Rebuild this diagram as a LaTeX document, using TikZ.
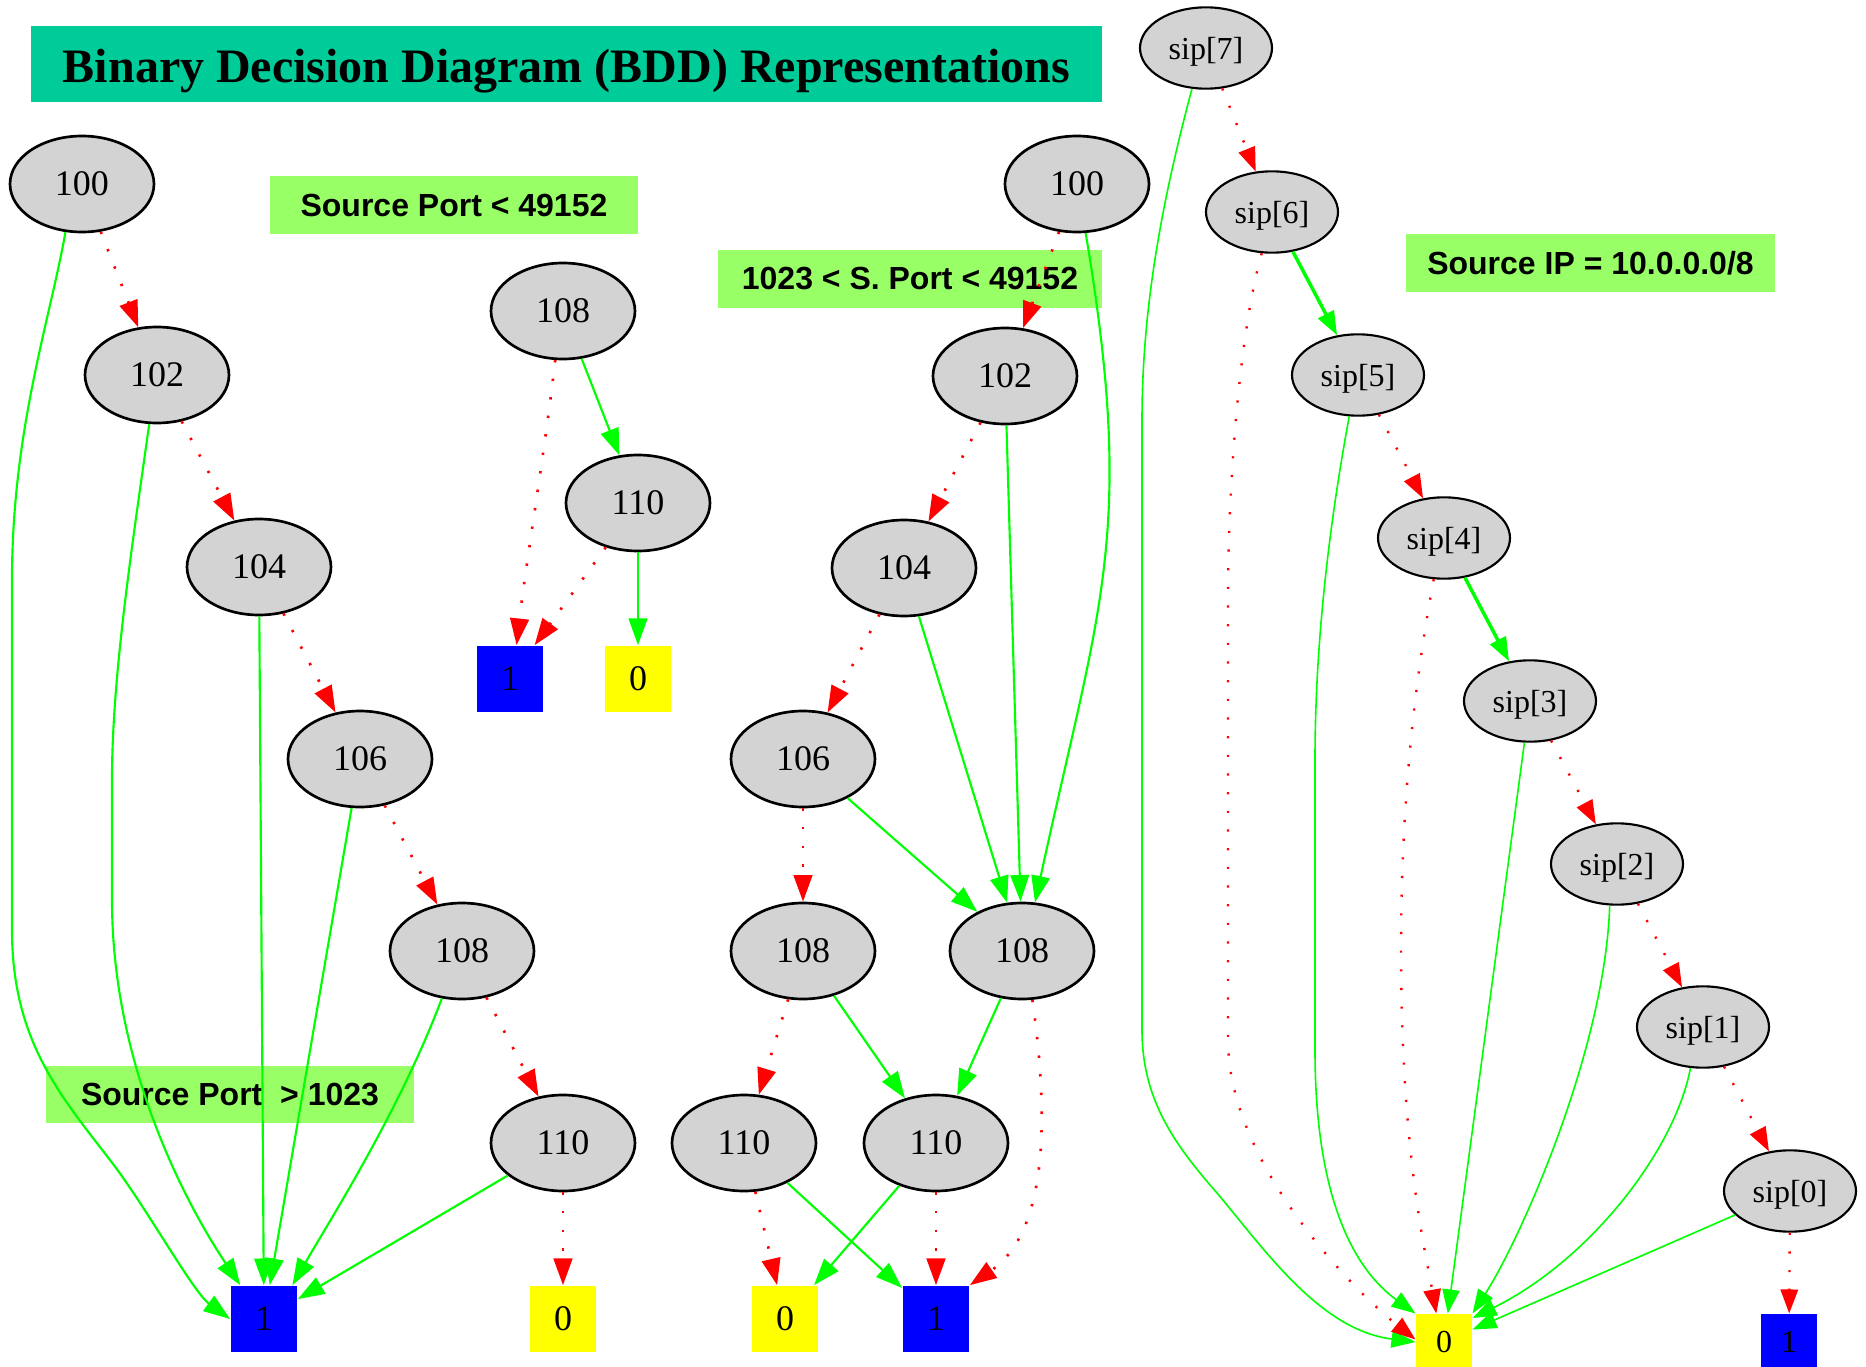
\documentclass[tikz,border=0pt]{standalone}
\usepackage{fontspec}
\setmainfont{Liberation Serif}
\newfontfamily\notefont{Liberation Sans}
\usetikzlibrary{shapes.geometric,arrows.meta}

\definecolor{titleteal}{HTML}{00CC99}
\definecolor{notegreen}{HTML}{99FF66}
\definecolor{nodegray}{HTML}{D3D3D3}
\definecolor{hicol}{HTML}{00FF00}
\definecolor{locol}{HTML}{FF0000}
\definecolor{termblue}{HTML}{0000FF}
\definecolor{termyellow}{HTML}{FFFF00}

\tikzset{
  bddvar/.style={ellipse, draw=black, line width=1pt, fill=nodegray,
    minimum width=54pt, minimum height=36pt, inner sep=0pt,
    font=\fontsize{13.5pt}{15pt}\selectfont},
  sipvar/.style={ellipse, draw=black, line width=0.8pt, fill=nodegray,
    minimum width=49.5pt, minimum height=30.5pt, inner sep=0pt, text depth=0pt,
    font=\fontsize{12pt}{14pt}\selectfont},
  termone/.style={rectangle, fill=termblue, minimum width=25pt, minimum height=25pt,
    inner sep=0pt, font=\fontsize{13.5pt}{15pt}\selectfont},
  termzero/.style={termone, fill=termyellow},
  siptermone/.style={termone, minimum width=21pt, minimum height=21pt,
    font=\fontsize{12pt}{14pt}\selectfont},
  siptermzero/.style={siptermone, fill=termyellow},
  note/.style={rectangle, fill=notegreen, inner sep=0pt, minimum height=21.75pt,
    font=\notefont\bfseries\fontsize{12pt}{14pt}\selectfont},
  hiedge/.style={draw=hicol, line width=0.8pt, -{Triangle[length=10pt,width=7pt]}},
  loedge/.style={draw=locol, line width=1pt, dash pattern=on 0.9pt off 6.1pt,
    -{Triangle[length=10pt,width=7pt]}},
  siphi/.style={draw=hicol, line width=0.6pt, -{Triangle[length=9pt,width=6.5pt]}},
  siphithick/.style={draw=hicol, line width=1.3pt, -{Triangle[length=9pt,width=6.5pt]}},
  siplo/.style={draw=locol, line width=0.9pt, dash pattern=on 0.8pt off 6.2pt,
    -{Triangle[length=9pt,width=6.5pt]}},
}

\begin{document}
\begin{tikzpicture}[x=0.375pt, y=-0.375pt]
  \useasboundingbox (0,0) rectangle (1866,1367);
  \clip (0,0) rectangle (1866,1367);
  \fill[white] (0,0) rectangle (1866,1367);

  % heading
  \node[fill=titleteal, minimum width=401.6pt, minimum height=28.5pt, inner sep=0pt]
        (titlebox) at (566.5,64) {};
  \node[anchor=base, inner sep=0pt, font=\bfseries\fontsize{18pt}{20pt}\selectfont]
        (title) at (566.5,82) {Binary Decision Diagram (BDD) Representations};

  % condition labels
  \node[note, minimum width=138pt] (noteA) at (454,205) {Source Port < 49152};
  \node[note, minimum width=144pt] (noteB) at (910,279) {1023 < S. Port < 49152};
  \node[note, minimum width=138pt, minimum height=21.4pt] (noteC) at (230,1094.5) {Source Port\ \ > 1023};
  \node[note, minimum width=138.4pt] (noteD) at (1590.5,263) {Source IP = 10.0.0.0/8};

  % left diagram: source port > 1023
  \node[bddvar] (L100) at (82,184) {100};
  \node[bddvar] (L102) at (157,375) {102};
  \node[bddvar] (L104) at (259,567) {104};
  \node[bddvar] (L106) at (360,759) {106};
  \node[bddvar] (L108) at (462,951) {108};
  \node[bddvar] (L110) at (563,1143) {110};
  \node[termone] (L1) at (264,1319) {1};
  \node[termzero] (L0) at (563,1319) {0};

  % small diagram: source port < 49152
  \node[bddvar] (T108) at (563,311) {108};
  \node[bddvar] (T110) at (638,503) {110};
  \node[termone] (T1) at (510,679) {1};
  \node[termzero] (T0) at (638,679) {0};

  % middle diagram: 1023 < source port < 49152
  \node[bddvar] (M100) at (1077,184) {100};
  \node[bddvar] (M102) at (1005,376) {102};
  \node[bddvar] (M104) at (904,568) {104};
  \node[bddvar] (M106) at (803,759) {106};
  \node[bddvar] (M108a) at (803,951) {108};
  \node[bddvar] (M108b) at (1022,951) {108};
  \node[bddvar] (M110a) at (744,1143) {110};
  \node[bddvar] (M110b) at (936,1143) {110};
  \node[termzero] (M0) at (785,1319) {0};
  \node[termone] (M1) at (936,1319) {1};

  % right diagram: source IP prefix
  \node[sipvar] (sip7) at (1206,48) {sip[7]};
  \node[sipvar] (sip6) at (1272,212) {sip[6]};
  \node[sipvar] (sip5) at (1358,375) {sip[5]};
  \node[sipvar] (sip4) at (1444,538) {sip[4]};
  \node[sipvar] (sip3) at (1530,701) {sip[3]};
  \node[sipvar] (sip2) at (1617,864) {sip[2]};
  \node[sipvar] (sip1) at (1703,1027) {sip[1]};
  \node[sipvar] (sip0) at (1790,1191) {sip[0]};
  \node[siptermzero] (S0) at (1444,1342) {0};
  \node[siptermone] (S1) at (1789,1342) {1};

  % left diagram edges
  \draw[loedge] (L100) -- (L102);
  \draw[loedge] (L102) -- (L104);
  \draw[loedge] (L104) -- (L106);
  \draw[loedge] (L106) -- (L108);
  \draw[loedge] (L108) -- (L110);
  \draw[loedge] (L110) -- (L0);
  \draw[hiedge] (L100.-109) .. controls (50,320) and (12,430) .. (12,580)
     -- (12,930) .. controls (12,1040) and (60,1095) .. (110,1160)
     .. controls (145,1205) and (193,1292) .. (L1.west);
  \draw[hiedge] (L102.-99) .. controls (130,560) and (112,680) .. (112,780)
     -- (112,900) .. controls (112,1070) and (190,1210) .. (L1.125);
  \draw[hiedge] (L104) -- (L1);
  \draw[hiedge] (L106) -- (L1);
  \draw[hiedge] (L108.-113) .. controls (400,1110) and (330,1220) .. (L1.50);
  \draw[hiedge] (L110) -- (L1);

  % small diagram edges
  \draw[loedge] (T108.-99) .. controls (545,450) and (525,570) .. (T1.79);
  \draw[hiedge] (T108) -- (T110);
  \draw[loedge] (T110) -- (T1);
  \draw[hiedge] (T110) -- (T0);

  % middle diagram edges
  \draw[loedge] (M100) -- (M102);
  \draw[hiedge] (M100.-80) .. controls (1136,532) and (1100,603) .. (M108b.75);
  \draw[loedge] (M102) -- (M104);
  \draw[hiedge] (M102) -- (M108b);
  \draw[loedge] (M104) -- (M106);
  \draw[hiedge] (M104) -- (M108b);
  \draw[loedge] (M106) -- (M108a);
  \draw[hiedge] (M106) -- (M108b);
  \draw[loedge] (M108a) -- (M110a);
  \draw[hiedge] (M108a) -- (M110b);
  \draw[hiedge] (M108b) -- (M110b);
  \draw[loedge] (M108b.-78) .. controls (1048,1110) and (1050,1230) .. (M1.north east);
  \draw[loedge] (M110a) -- (M0);
  \draw[hiedge] (M110a) -- (M1);
  \draw[hiedge] (M110b) -- (M0);
  \draw[loedge] (M110b) -- (M1);

  % right diagram edges
  \draw[siplo] (sip7) -- (sip6);
  \draw[siphi] (sip7.-109) .. controls (1165,190) and (1142,300) .. (1142,420)
     -- (1142,1030) .. controls (1142,1100) and (1175,1145) .. (1217,1193)
     .. controls (1265,1250) and (1320,1330) .. (S0.west);
  \draw[siphithick] (sip6) -- (sip5);
  \draw[siplo] (sip6.-104) .. controls (1240,330) and (1228,480) .. (1228,600)
     -- (1228,1040) .. controls (1228,1160) and (1348,1286) .. (S0.175);
  \draw[siplo] (sip5) -- (sip4);
  \draw[siphi] (sip5.-102) .. controls (1330,520) and (1315,640) .. (1315,760)
     -- (1315,1050) .. controls (1315,1200) and (1355,1270) .. (S0.north west);
  \draw[siphithick] (sip4) -- (sip3);
  \draw[siplo] (sip4.-104) .. controls (1415,680) and (1401,800) .. (1401,950)
     .. controls (1401,1150) and (1425,1250) .. (S0.105);
  \draw[siplo] (sip3) -- (sip2);
  \draw[siphi] (sip3) -- (S0);
  \draw[siplo] (sip2) -- (sip1);
  \draw[siphi] (sip2.-100) .. controls (1605,1050) and (1520,1240) .. (S0.north east);
  \draw[siplo] (sip1) -- (sip0);
  \draw[siphi] (sip1.-107) .. controls (1675,1150) and (1590,1260) .. (S0.40);
  \draw[siphi] (sip0) -- (S0);
  \draw[siplo] (sip0) -- (S1);
\end{tikzpicture}
\end{document}
